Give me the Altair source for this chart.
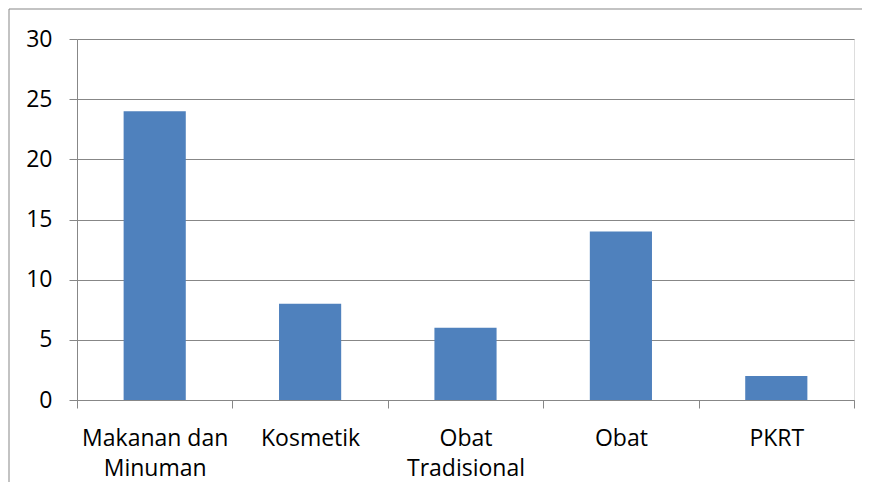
import altair as alt
import pandas as pd

categories = ["Makanan dan|Minuman", "Kosmetik", "Obat|Tradisional", "Obat", "PKRT"]
values = [24, 8, 6, 14, 2]
y_ticks = [0, 5, 10, 15, 20, 25, 30]

df = pd.DataFrame({"kategori": categories, "nilai": values})
frame_df = pd.DataFrame({"f": [0]})

W, H = 777, 361
GRAY = "#878787"
FONT = "Open Sans"

frame = alt.Chart(frame_df).mark_rect(
    fillOpacity=0, stroke=GRAY, strokeWidth=1
).encode(
    x=alt.value(-68), x2=alt.value(W + 40),
    y=alt.value(-30), y2=alt.value(H + 200),
)

bars = alt.Chart(df).mark_bar(
    color="#4F81BD", width=alt.RelativeBandSize(0.4)
).encode(
    x=alt.X(
        "kategori:N", sort=categories,
        scale=alt.Scale(paddingInner=0, paddingOuter=0),
        axis=alt.Axis(
            title=None, labelAngle=0, labelExpr="split(datum.label, '|')",
            tickBand="extent", grid=False, tickSize=8, labelPadding=19,
            labelLineHeight=30, labelFontSize=23, labelFont=FONT,
            labelColor="#000000", domainColor=GRAY, tickColor=GRAY,
        ),
    ),
    y=alt.Y(
        "nilai:Q", scale=alt.Scale(domain=[0, 30], nice=False),
        axis=alt.Axis(
            title=None, values=y_ticks, grid=True, gridColor=GRAY,
            tickSize=8, labelPadding=17, labelFontSize=23, labelFont=FONT,
            labelColor="#000000", domainColor=GRAY, tickColor=GRAY,
        ),
    ),
)

chart = alt.layer(frame, bars).properties(
    width=W, height=H,
    autosize=alt.AutoSizeParams(type="none"),
    padding={"left": 69, "top": 31, "right": 8, "bottom": 474 - 31 - H},
).configure_view(stroke=None).configure(background="white")

chart.save("out.html", embed_options={"renderer": "svg", "actions": False})
